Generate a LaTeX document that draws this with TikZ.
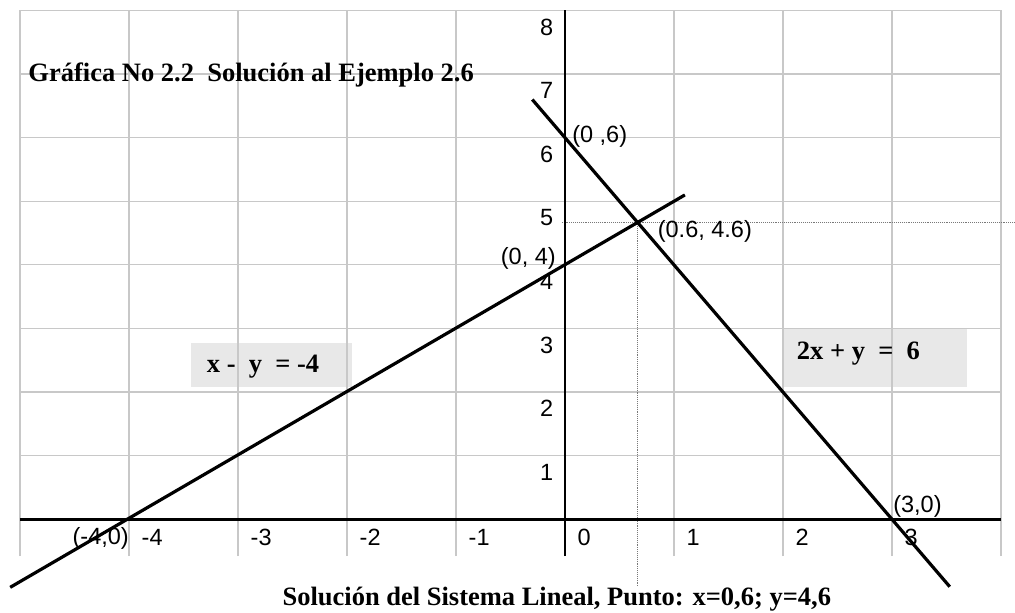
\documentclass[tikz,border=0pt]{standalone}
\usepackage{fontspec}
\setmainfont{Liberation Serif}
\newfontfamily\labelfont{Liberation Sans}
\definecolor{gridgray}{RGB}{200,200,200}
\definecolor{boxgray}{RGB}{232,232,232}
\definecolor{dotgray}{RGB}{120,120,120}
\begin{document}
\begin{tikzpicture}[x=109pt,y=63.6pt,
  gridline/.style={draw=gridgray, line width=1.2pt},
  axisline/.style={line width=2.6pt, draw=black},
  eqline/.style={line width=3.2pt, draw=black},
  guide/.style={draw=dotgray, line width=0.9pt, densely dotted},
  ticklbl/.style={font=\labelfont\fontsize{23.5}{26}\selectfont, inner sep=0pt},
  eqbox/.style={fill=boxgray, inner sep=0pt, anchor=south west},
  boldtext/.style={font=\bfseries\fontsize{26.5}{30}\selectfont, inner sep=0pt}]
\fill[white] (-5.1835,-1.4733) rectangle (4.1284,8.1651);
\useasboundingbox (-5.1835,-1.4733) rectangle (4.1284,8.1651);
% shaded equation boxes
\node[eqbox, minimum width=161.6pt, minimum height=44.6pt] (box1) at (-3.434,2.075) {};
\node[eqbox, minimum width=184.4pt, minimum height=58pt] (box2) at (1.994,2.075) {};
% grid
\foreach \x in {-5,...,4} \draw[gridline] (\x,-0.58) -- (\x,8);
\foreach \y in {1,...,8} \draw[gridline] (-5,\y) -- (4,\y);
% guides to the solution point
\coordinate (sol) at (0.6667,4.6667);
\coordinate (hstart) at (-0.03,4.6667);
\coordinate (hend) at (4.1284,4.6667);
\coordinate (vend) at (0.6667,-1.05);
\draw[guide] (hstart) -- (hend);
\draw[guide] (sol) -- (vend);
% axes
\coordinate (xl) at (-5,0);
\coordinate (xr) at (4,0);
\coordinate (yb) at (0,-0.58);
\coordinate (yt) at (0,8);
\draw[axisline] (xl) -- (xr);
\draw[axisline] (yb) -- (yt);
% lines
\coordinate (a1) at (-5.09,-1.07);
\coordinate (a2) at (1.1,5.1);
\coordinate (b1) at (-0.3,6.6);
\coordinate (b2) at (3.53,-1.06);
\draw[eqline] (a1) -- (a2);
\draw[eqline] (b1) -- (b2);
% tick labels
\foreach \k in {1,...,8} \node[ticklbl] (y\k) at (-0.168,\k-0.26) {\k};
\foreach \k in {-4,...,3} \node[ticklbl, anchor=west] (x\k) at (\k+0.115,-0.283) {\k};
% point labels
\node[ticklbl, anchor=west] (p06) at (0.065,6.02) {(0 ,6)};
\node[ticklbl, anchor=west] (psol) at (0.85,4.52) {(0.6, 4.6)};
\node[ticklbl, anchor=east] (p04) at (-0.083,4.1) {(0, 4)};
\node[ticklbl, anchor=east] (pm40) at (-4.0,-0.3) {(-4,0)};
\node[ticklbl, anchor=west] (p30) at (3.01,0.2) {(3,0)};
% equation texts
\node[boldtext, anchor=west] (eq1) at (-3.287,2.40) {x -\ \ y\ \ = -4};
\node[boldtext, anchor=west] (eq2) at (2.126,2.61) {2x + y\ \ =\ \ 6};
% titles
\node[boldtext, anchor=base west] (title) at (-4.924,6.88) {Gráfica No 2.2\ \ Solución al Ejemplo 2.6};
\node[boldtext, anchor=base west] (caption) at (-2.593,-1.363) {Solución del Sistema Lineal, Punto: x=0,6; y=4,6};
\end{tikzpicture}
\end{document}
